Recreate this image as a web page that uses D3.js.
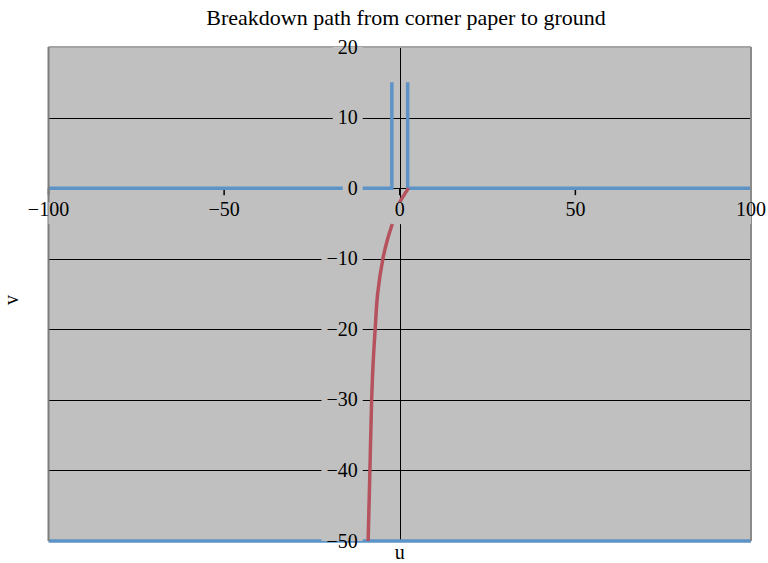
<!DOCTYPE html>
<html><head><meta charset="utf-8">
<script src="https://cdn.jsdelivr.net/npm/d3@7"></script>
<style>body{margin:0;background:#fff}</style>
</head><body><svg id="chart" width="768" height="563"></svg>
<script>
// Axis ticks
const xTicks = [-100, -50, 0, 50, 100];
const yTicks = [20, 10, 0, -10, -20, -30, -40, -50];
const gridValues = [10, -10, -20, -30, -40];

// Corner paper electrodes (blue) and ground plane
const leftU = [-100, -2.25, -2.25];
const leftV = [0, 0, 15];
const rightU = [2.25, 2.25, 100];
const rightV = [15, 0, 0];
const groundU = [-100, 100];
const groundV = [-50, -50];

// Breakdown path (red)
const pathU = [2.5, 1.2, 0, -1.2, -2.2, -3.4, -4.8, -6.3, -7.0, -7.6, -8.0, -8.5, -9.0];
const pathV = [0, -1, -2, -3.5, -5.2, -7.1, -10, -15, -20, -25, -30, -40, -50];

const m = {left: 48.5, right: 751, top: 47, bottom: 541};
const FONT = "'Liberation Serif', 'DejaVu Serif', serif";
const BG = "#c0c0c0";
const BLUE = "#5d93c6", RED = "#b5525e";

const svg = d3.select("#chart");
const x = d3.scaleLinear().domain([-100, 100]).range([m.left, m.right]);
const y = d3.scaleLinear().domain([-50, 20]).range([m.bottom, m.top]);

const zip = (us, vs) => us.map((u, i) => [u, vs[i]]);

// plot area
svg.append("rect").attr("x", m.left).attr("y", m.top)
  .attr("width", m.right - m.left).attr("height", m.bottom - m.top).attr("fill", BG);

svg.append("defs").append("clipPath").attr("id", "plotclip").append("rect")
  .attr("x", m.left).attr("y", m.top).attr("width", m.right - m.left).attr("height", m.bottom - m.top);

// horizontal gridlines
svg.append("g").selectAll("line").data(gridValues).join("line")
  .attr("x1", m.left).attr("x2", m.right)
  .attr("y1", d => Math.round(y(d)) + 0.5).attr("y2", d => Math.round(y(d)) + 0.5)
  .attr("stroke", "#000").attr("stroke-width", 1);

// axis lines through the origin
svg.append("line").attr("x1", Math.round(x(0)) + 0.5).attr("x2", Math.round(x(0)) + 0.5)
  .attr("y1", m.top).attr("y2", m.bottom).attr("stroke", "#000");
svg.append("line").attr("x1", m.left).attr("x2", m.right)
  .attr("y1", Math.round(y(0)) + 0.5).attr("y2", Math.round(y(0)) + 0.5).attr("stroke", "#000");
// x ticks
svg.append("g").selectAll("line").data(xTicks).join("line")
  .attr("x1", d => x(d)).attr("x2", d => x(d))
  .attr("y1", y(0)).attr("y2", y(0) + 7).attr("stroke", "#000").attr("stroke-width", 1.5);

// series
const line = d3.line().x(d => x(d[0])).y(d => y(d[1]));
const curve = d3.line().x(d => x(d[0])).y(d => y(d[1])).curve(d3.curveCatmullRom.alpha(0.5));

[zip(leftU, leftV), zip(rightU, rightV), zip(groundU, groundV)].forEach(pts => {
  svg.append("path").attr("d", line(pts)).attr("fill", "none")
    .attr("stroke", BLUE).attr("stroke-width", 3.5);
});
svg.append("path").attr("d", curve(zip(pathU, pathV))).attr("fill", "none")
  .attr("stroke", RED).attr("stroke-width", 3.5).attr("stroke-linecap", "butt");

// plot border
svg.append("line").attr("x1", m.left).attr("x2", m.right).attr("y1", m.top).attr("y2", m.top)
  .attr("stroke", "#a4a4a4").attr("stroke-width", 2);
svg.append("line").attr("x1", m.left).attr("x2", m.left).attr("y1", m.top).attr("y2", m.bottom)
  .attr("stroke", "#7c7c7c").attr("stroke-width", 2);
svg.append("line").attr("x1", m.right).attr("x2", m.right).attr("y1", m.top).attr("y2", m.bottom)
  .attr("stroke", "#8a8a8a").attr("stroke-width", 2);

const fmt = d => d < 0 ? "\u2212" + Math.abs(d) : String(d);

// y tick labels with background boxes
const yLab = svg.append("g");
yTicks.forEach(v => {
  const g = yLab.append("g");
  const t = g.append("text").attr("x", x(0) - 42).attr("y", y(v)).attr("dy", "0.33em")
    .attr("text-anchor", "end").attr("font-family", FONT).attr("font-size", 20)
    .attr("fill", "#000").text(fmt(v));
  const b = t.node().getBBox();
  g.insert("rect", "text").attr("x", b.x - 5).attr("y", y(v) - 8)
    .attr("width", b.width + 10).attr("height", 16).attr("fill", BG)
    .attr("clip-path", "url(#plotclip)");
});

// x tick labels with background boxes
const xLab = svg.append("g");
xTicks.forEach(u => {
  const g = xLab.append("g");
  const t = g.append("text").attr("x", x(u)).attr("y", y(0) + 28)
    .attr("text-anchor", "middle").attr("font-family", FONT).attr("font-size", 20)
    .attr("fill", "#000").text(fmt(u));
  const b = t.node().getBBox();
  g.insert("rect", "text").attr("x", b.x - 4).attr("y", y(0) + 14)
    .attr("width", b.width + 8).attr("height", 22).attr("fill", BG)
    .attr("clip-path", "url(#plotclip)");
});

// title and axis names
svg.append("text").attr("x", 406).attr("y", 25).attr("text-anchor", "middle")
  .attr("font-family", FONT).attr("font-size", 22).attr("fill", "#000")
  .text("Breakdown path from corner paper to ground");
svg.append("text").attr("x", x(0)).attr("y", 559).attr("text-anchor", "middle")
  .attr("font-family", FONT).attr("font-size", 20).attr("fill", "#000").text("u");
svg.append("text").attr("transform", "translate(18,300) rotate(-90)").attr("text-anchor", "middle")
  .attr("font-family", FONT).attr("font-size", 20).attr("fill", "#000").text("v");
</script></body></html>
